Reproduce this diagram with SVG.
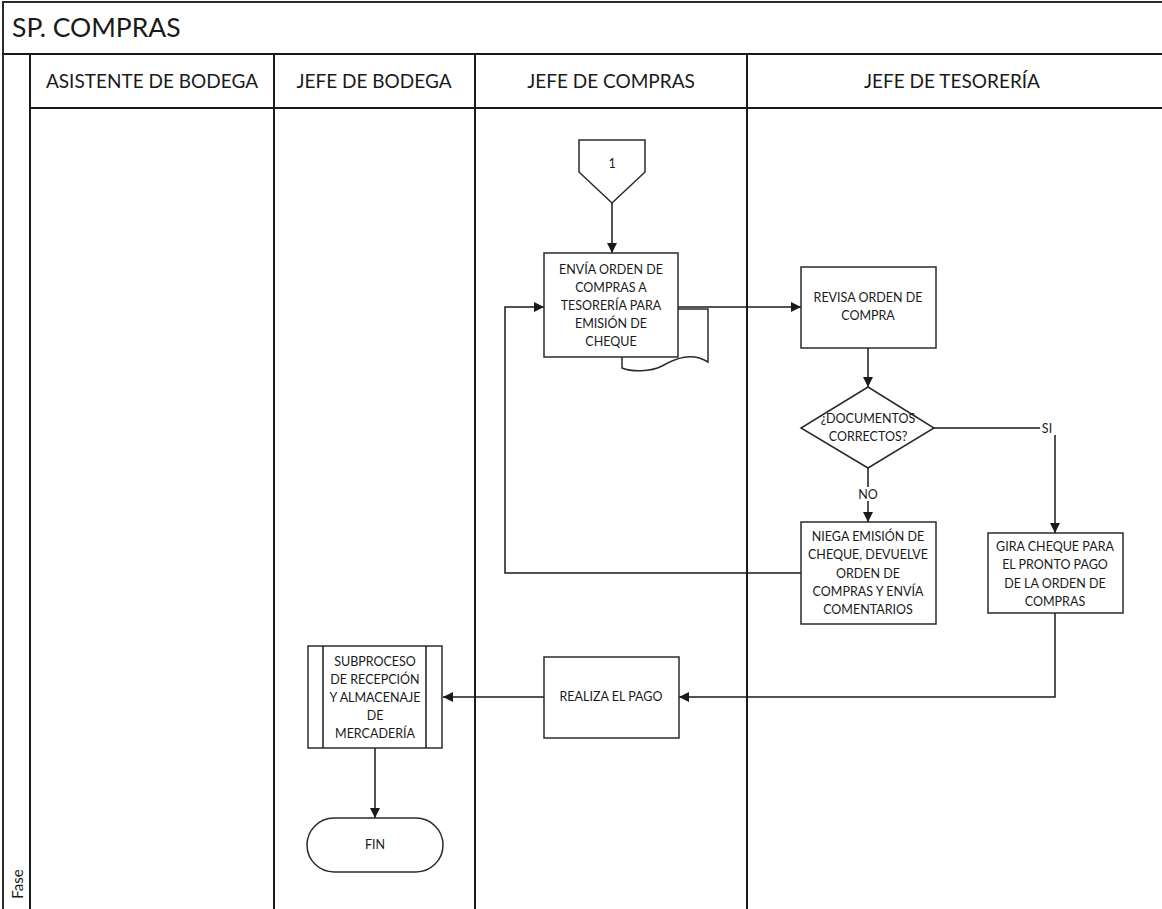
<svg xmlns="http://www.w3.org/2000/svg" width="1162" height="909" viewBox="0 0 1162 909">
  <style>
    .frame { fill: none; stroke: #2b2b2b; stroke-width: 2; }
    .lane { fill: none; stroke: #1a1a1a; stroke-width: 2; }
    .shape { fill: #ffffff; stroke: #2b2b2b; stroke-width: 1.5; }
    .conn { fill: none; stroke: #1a1a1a; stroke-width: 1.5; }
    .title { font-family: Lato, "Liberation Sans", sans-serif; font-size: 26.5px; fill: #1a1a1a; }
    .head { font-family: Lato, "Liberation Sans", sans-serif; font-size: 19px; fill: #1a1a1a; text-anchor: middle; }
    .lbl { font-family: Lato, "Liberation Sans", sans-serif; font-size: 12.5px; fill: #1a1a1a; text-anchor: middle; }
  </style>
  <defs>
    <marker id="arrow" viewBox="0 0 10 10" refX="10" refY="5" markerWidth="10" markerHeight="10" markerUnits="userSpaceOnUse" orient="auto">
      <path d="M0,0 L10,5 L0,10 z" fill="#1a1a1a"/>
    </marker>
  </defs>

  <rect width="1162" height="909" fill="#ffffff"/>

  <!-- pool frame, title bar and lanes -->
  <g id="pool">
    <path class="frame" d="M3,909 V2 H1162"/>
    <line class="lane" x1="3" y1="54" x2="1162" y2="54"/>
    <line class="lane" x1="30" y1="108" x2="1162" y2="108"/>
    <line class="lane" x1="30" y1="54" x2="30" y2="909"/>
    <line class="lane" x1="274" y1="54" x2="274" y2="909"/>
    <line class="lane" x1="475" y1="54" x2="475" y2="909"/>
    <line class="lane" x1="747" y1="54" x2="747" y2="909"/>
    <text class="title" x="12" y="37">SP. COMPRAS</text>
    <text class="head" x="152" y="88">ASISTENTE DE BODEGA</text>
    <text class="head" x="374" y="88">JEFE DE BODEGA</text>
    <text class="head" x="611" y="88">JEFE DE COMPRAS</text>
    <text class="head" x="952" y="88">JEFE DE TESORERÍA</text>
    <text class="head" transform="translate(23,884) rotate(-90)" style="font-size:15px">Fase</text>
  </g>

  <!-- connectors -->
  <g id="connectors">
    <line class="conn" x1="612" y1="203" x2="612" y2="253" marker-end="url(#arrow)"/>
    <line class="conn" x1="678" y1="307" x2="801" y2="307" marker-end="url(#arrow)"/>
    <line class="conn" x1="868" y1="348" x2="868" y2="387" marker-end="url(#arrow)"/>
    <line class="conn" x1="868" y1="468" x2="868" y2="522" marker-end="url(#arrow)"/>
    <polyline class="conn" points="934,428 1055,428 1055,533" marker-end="url(#arrow)"/>
    <polyline class="conn" points="801,573 505,573 505,307 544,307" marker-end="url(#arrow)"/>
    <polyline class="conn" points="1055,613 1055,697 679,697" marker-end="url(#arrow)"/>
    <line class="conn" x1="544" y1="697" x2="443" y2="697" marker-end="url(#arrow)"/>
    <line class="conn" x1="375" y1="748" x2="375" y2="818" marker-end="url(#arrow)"/>
    <rect x="1040" y="421" width="22" height="14" fill="#ffffff"/>
    <text class="lbl" x="1047" y="433">SI</text>
    <rect x="855" y="487" width="26" height="14" fill="#ffffff"/>
    <text class="lbl" x="868" y="499">NO</text>
  </g>

  <!-- off-page connector 1 -->
  <g id="offpage1">
    <path class="shape" d="M579,140 H645 V172 L612,203 L579,172 Z"/>
    <text class="lbl" x="612" y="168">1</text>
  </g>

  <!-- send purchase order (with document) -->
  <g id="envia">
    <path class="shape" d="M660,309 H708 V362 C692,352 676,358 662,366 C650,372 632,372 622,368 V340 Z"/>
    <rect class="shape" x="544" y="253" width="134" height="104"/>
    <text class="lbl" x="611" y="274">ENVÍA ORDEN DE</text>
    <text class="lbl" x="611" y="292">COMPRAS A</text>
    <text class="lbl" x="611" y="310">TESORERÍA PARA</text>
    <text class="lbl" x="611" y="328">EMISIÓN DE</text>
    <text class="lbl" x="611" y="346">CHEQUE</text>
  </g>

  <g id="revisa">
    <rect class="shape" x="801" y="267" width="135" height="81"/>
    <text class="lbl" x="868" y="302">REVISA ORDEN DE</text>
    <text class="lbl" x="868" y="320">COMPRA</text>
  </g>

  <g id="decision">
    <path class="shape" d="M868,387 L934,428 L868,468 L801,428 Z"/>
    <text class="lbl" x="868" y="423">¿DOCUMENTOS</text>
    <text class="lbl" x="868" y="441">CORRECTOS?</text>
  </g>

  <g id="niega">
    <rect class="shape" x="801" y="522" width="135" height="102"/>
    <text class="lbl" x="868" y="541">NIEGA EMISIÓN DE</text>
    <text class="lbl" x="868" y="559">CHEQUE, DEVUELVE</text>
    <text class="lbl" x="868" y="578">ORDEN DE</text>
    <text class="lbl" x="868" y="596">COMPRAS Y ENVÍA</text>
    <text class="lbl" x="868" y="614">COMENTARIOS</text>
  </g>

  <g id="gira">
    <rect class="shape" x="988" y="533" width="135" height="80"/>
    <text class="lbl" x="1055" y="551">GIRA CHEQUE PARA</text>
    <text class="lbl" x="1055" y="569">EL PRONTO PAGO</text>
    <text class="lbl" x="1055" y="588">DE LA ORDEN DE</text>
    <text class="lbl" x="1055" y="606">COMPRAS</text>
  </g>

  <g id="realiza">
    <rect class="shape" x="544" y="657" width="135" height="81"/>
    <text class="lbl" x="611" y="701">REALIZA EL PAGO</text>
  </g>

  <g id="subproceso">
    <rect class="shape" x="308" y="646" width="134" height="102"/>
    <line class="conn" x1="323" y1="646" x2="323" y2="748"/>
    <line class="conn" x1="426" y1="646" x2="426" y2="748"/>
    <text class="lbl" x="375" y="666">SUBPROCESO</text>
    <text class="lbl" x="375" y="684">DE RECEPCIÓN</text>
    <text class="lbl" x="375" y="702">Y ALMACENAJE</text>
    <text class="lbl" x="375" y="720">DE</text>
    <text class="lbl" x="375" y="738">MERCADERÍA</text>
  </g>

  <g id="fin">
    <rect class="shape" x="307" y="818" width="136" height="54" rx="27" ry="27"/>
    <text class="lbl" x="375" y="849">FIN</text>
  </g>
</svg>
